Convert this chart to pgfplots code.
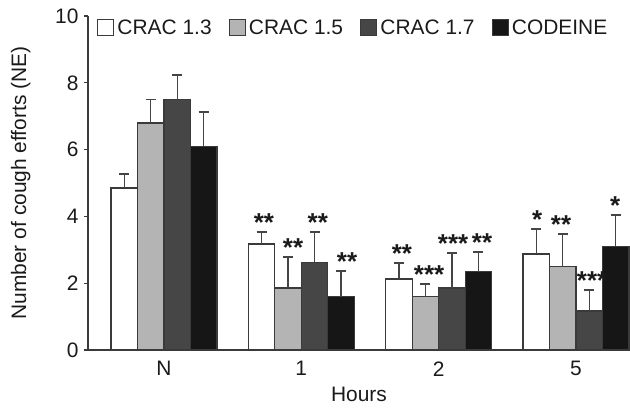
\documentclass[border=0pt]{standalone}
\usepackage{fontspec}
\setmainfont{Liberation Sans}
\usepackage{pgfplots}
\usepackage{pgfplotstable}
\pgfplotsset{compat=1.18}
\definecolor{edgec}{HTML}{3A3A3A}
\definecolor{lgray}{HTML}{B4B4B4}
\definecolor{dgray}{HTML}{464646}
\definecolor{blk}{HTML}{161616}
\definecolor{errc}{HTML}{454545}
\definecolor{txt}{HTML}{1A1A1A}

\pgfplotstableread{
x y e
-0.2895 4.85 0.42
0.7105 3.17 0.36
1.7105 2.13 0.47
2.7105 2.87 0.75
}\crakA
\pgfplotstableread{
x y e
-0.0965 6.80 0.70
0.9035 1.86 0.92
1.9035 1.60 0.37
2.9035 2.50 0.98
}\crakB
\pgfplotstableread{
x y e
0.0965 7.50 0.73
1.0965 2.63 0.90
2.0965 1.86 1.04
3.0965 1.17 0.63
}\crakC
\pgfplotstableread{
x y e
0.2895 6.10 1.03
1.2895 1.60 0.77
2.2895 2.34 0.59
3.2895 3.10 0.93
}\codeine
\pgfplotstableread{
x y lab
0.728 3.53 **
0.940 2.78 **
1.120 3.53 **
1.333 2.37 **
1.733 2.60 **
1.930 1.97 ***
2.105 2.90 ***
2.316 2.93 **
2.717 3.62 *
2.891 3.48 **
3.117 1.80 ***
3.285 4.03 *
}\stars

\begin{document}
\begin{tikzpicture}
\begin{axis}[
  scale only axis,
  width=542bp, height=334bp,
  xmin=-0.553, xmax=3.393,
  ymin=0, ymax=10,
  axis lines*=left,
  axis line style={edgec, line width=1.3bp},
  ytick={0,2,4,6,8,10},
  xtick={0,1,2,3},
  xticklabels={N,1,2,5},
  x tick style={draw=none},
  y tick style={edgec, line width=1.3bp},
  tick align=outside,
  major tick length=4bp,
  /pgf/number format/assume math mode=true,
  tick label style={font=\fontsize{21}{25}\selectfont, text=txt},
  xticklabel style={yshift=-4bp},
  yticklabel style={xshift=-2bp},
  label style={font=\fontsize{21}{25}\selectfont, text=txt},
  xlabel={Hours},
  xlabel style={yshift=-6bp, inner ysep=1bp},
  ylabel={Number of cough efforts (NE)},
  ylabel style={at={([xshift=-54bp]rel axis cs:0,0.5)}, anchor=south},
  legend style={
    at={(rel axis cs:0,1)}, anchor=north west, xshift=9bp, yshift=-3bp,
    draw=none, fill=none, inner sep=0pt,
    font=\fontsize{21}{25}\selectfont,
    nodes={inner xsep=0pt, inner ysep=0pt, text=txt},
    /tikz/every odd column/.append style={column sep=3bp},
    /tikz/every even column/.append style={column sep=17bp},
  },
  legend columns=4,
  legend image code/.code={\draw[#1, line width=1.3bp] (0bp,-8bp) rectangle (16bp,8bp);},
  every axis plot/.append style={draw=edgec, line width=1.3bp},
  error bars/y dir=plus,
  error bars/y explicit,
  error bars/error mark options={rotate=90, mark size=5bp, line width=1.8bp, errc},
  error bars/error bar style={line width=1.3bp, errc},
  clip=false,
]
\addplot[ybar, bar width=0.193, bar shift=0pt, fill=white] table[x=x, y=y, y error=e] {\crakA};
\addlegendentry{CRAC 1.3}
\addplot[ybar, bar width=0.193, bar shift=0pt, fill=lgray] table[x=x, y=y, y error=e] {\crakB};
\addlegendentry{CRAC 1.5}
\addplot[ybar, bar width=0.193, bar shift=0pt, fill=dgray] table[x=x, y=y, y error=e] {\crakC};
\addlegendentry{CRAC 1.7}
\addplot[ybar, bar width=0.193, bar shift=0pt, fill=blk] table[x=x, y=y, y error=e] {\codeine};
\addlegendentry{CODEINE}
\addplot[draw=none, mark=none, forget plot,
  nodes near coords, point meta=explicit symbolic,
  every node near coord/.style={anchor=south, inner sep=0pt, font=\fontsize{26}{28}\selectfont\bfseries, text=txt}]
  table[x=x, y=y, meta=lab] {\stars};
\coordinate (bl) at (rel axis cs:0,0);
\coordinate (tr) at (rel axis cs:1,1);
\end{axis}
\pgfresetboundingbox
\path ([shift={(-88bp,-60bp)}]bl) rectangle ([shift={(0bp,16bp)}]tr);
\end{tikzpicture}
\end{document}
